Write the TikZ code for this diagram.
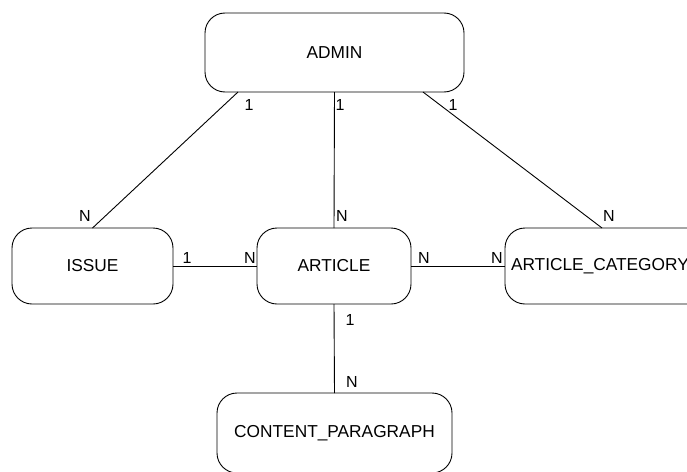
\documentclass[tikz,border=0pt]{standalone}
\usepackage{fontspec}
\setmainfont{Liberation Sans}
\usetikzlibrary{calc}
\begin{document}
\begin{tikzpicture}[x=1pt,y=-1pt,
  ent/.style={draw, line width=0.9pt, rounded corners=20pt, outer sep=0pt, inner sep=0pt,
    font=\fontsize{17.3}{20}\selectfont},
  card/.style={font=\fontsize{16}{19}\selectfont, inner sep=0pt},
  rel/.style={line width=0.9pt}]
\useasboundingbox (0,0) rectangle (687,471);
\clip (0,0) rectangle (687,471);
\node[ent, minimum width=259pt, minimum height=79pt] (admin) at (334.5,52.5) {ADMIN};
\node[ent, minimum width=161pt, minimum height=76pt] (issue) at (92.5,266) {ISSUE};
\node[ent, minimum width=154pt, minimum height=76pt] (article) at (334,266) {ARTICLE};
\node[ent, minimum height=76pt, text width=218pt, align=left, inner xsep=6pt, anchor=west] (ac) at (505,266) {ARTICLE\_CATEGORY};
\node[ent, minimum width=235pt, minimum height=80pt] (cp) at (334.5,433) {\raisebox{-2pt}{CONTENT\_PARAGRAPH}};
\coordinate (a1) at ($(admin.south west)+(33,0)$);
\coordinate (a3) at ($(admin.south west)+(218,0)$);
\coordinate (act) at ($(ac.north west)+(97,0)$);
\draw[rel] (a1) -- (issue.north);
\draw[rel] (admin.south) -- (article.north);
\draw[rel] (a3) -- (act);
\draw[rel] (issue.east) -- (article.west);
\draw[rel] (article.east) -- (ac.west);
\draw[rel] (article.south) -- (cp.north);
\node[card] (l1) at (249,105) {1};
\node[card] (l2) at (340,105) {1};
\node[card] (l3) at (453,105) {1};
\node[card] (l4) at (85,216) {N};
\node[card] (l5) at (342,216) {N};
\node[card] (l6) at (609,216) {N};
\node[card] (l7) at (187,258) {1};
\node[card] (l8) at (250,258) {N};
\node[card] (l9) at (424,258) {N};
\node[card] (l10) at (497,258) {N};
\node[card] (l11) at (350,320) {1};
\node[card] (l12) at (352,382) {N};
\end{tikzpicture}
\end{document}
